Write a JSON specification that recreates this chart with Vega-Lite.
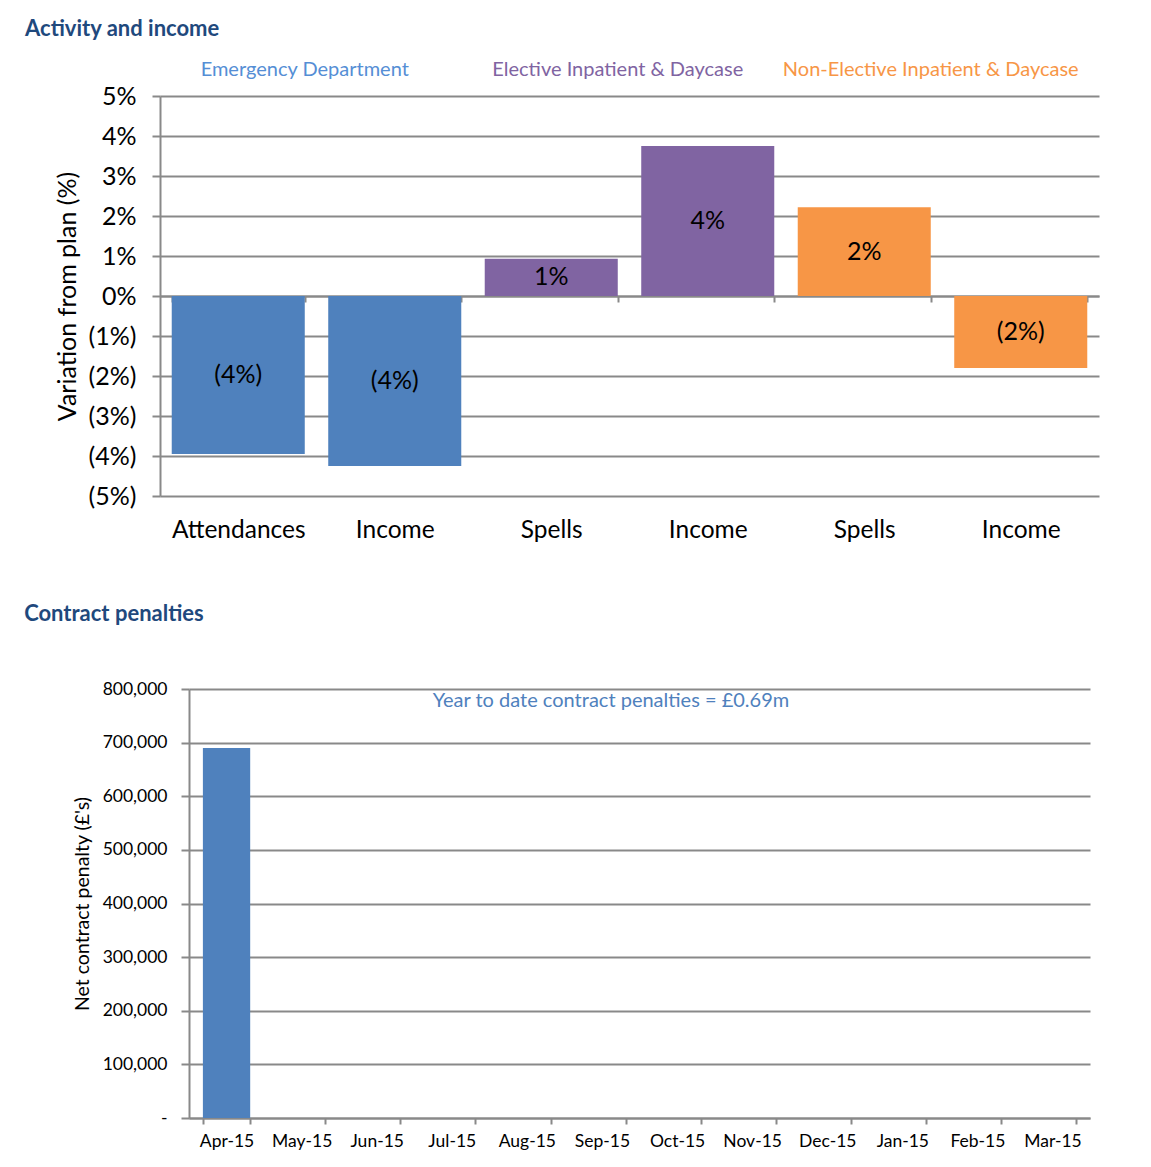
{
  "$schema": "https://vega.github.io/schema/vega-lite/v6.json",
  "background": "white",
  "padding": {"left": 24, "top": 18, "right": 10, "bottom": 0},
  "columns": 1,
  "align": "none",
  "spacing": 61,
  "config": {
    "font": "Lato",
    "view": {"stroke": null},
    "axis": {
      "domainColor": "#898989", "tickColor": "#898989", "gridColor": "#898989",
      "domainWidth": 2, "tickWidth": 2, "gridWidth": 2,
      "labelColor": "black", "titleColor": "black",
      "labelFont": "Lato", "titleFont": "Lato", "titleFontWeight": "normal",
      "labelOverlap": false
    },
    "title": {"anchor": "start", "frame": "bounds", "color": "#1F497D", "fontSize": 22, "fontWeight": "bold", "font": "Lato"}
  },
  "concat": [
    {
      "title": {"text": "Activity and income", "dx": -30, "offset": 19},
      "width": 910,
      "height": 400,
      "data": {"values": [
        {"group": "Emergency Department", "item": "ED Attendances", "value": -0.0395},
        {"group": "Emergency Department", "item": "ED Income", "value": -0.0425},
        {"group": "Elective Inpatient & Daycase", "item": "EL Spells", "value": 0.0093},
        {"group": "Elective Inpatient & Daycase", "item": "EL Income", "value": 0.0375},
        {"group": "Non-Elective Inpatient & Daycase", "item": "NEL Spells", "value": 0.0222},
        {"group": "Non-Elective Inpatient & Daycase", "item": "NEL Income", "value": -0.018}
      ]},
      "resolve": {"scale": {"y": "independent", "color": "independent"}},
      "layer": [
        {
          "mark": {"type": "bar"},
          "encoding": {
            "x": {
              "field": "item", "type": "nominal", "sort": null,
              "scale": {"paddingInner": 0.15, "paddingOuter": 0.075, "range": [-29, 910]},
              "axis": {
                "title": null, "orient": "bottom", "offset": -200,
                "tickBand": "extent", "tickSize": 6, "labelPadding": 216,
                "labelFontSize": 24.5, "labelAngle": 0, "grid": false,
                "labelExpr": "split(datum.label, ' ')[1]"
              }
            },
            "y": {
              "field": "value", "type": "quantitative",
              "scale": {"domain": [-0.05, 0.05]},
              "axis": {
                "title": "Variation from plan (%)", "format": "(.0%",
                "values": [-0.05, -0.04, -0.03, -0.02, -0.01, 0, 0.01, 0.02, 0.03, 0.04, 0.05],
                "labelFontSize": 25, "titleFontSize": 25, "tickSize": 8,
                "labelPadding": 16, "titlePadding": 8, "offset": 29
              }
            },
            "color": {
              "field": "group", "type": "nominal",
              "scale": {
                "domain": ["Emergency Department", "Elective Inpatient & Daycase", "Non-Elective Inpatient & Daycase"],
                "range": ["#4F81BD", "#8064A2", "#F79646"]
              },
              "legend": null
            }
          }
        },
        {
          "mark": {"type": "text", "fontSize": 25, "color": "black", "baseline": "middle"},
          "encoding": {
            "x": {"field": "item", "type": "nominal", "sort": null},
            "y": {"field": "value", "type": "quantitative", "scale": {"domain": [-0.1, 0.1]}, "axis": null},
            "text": {"field": "value", "type": "quantitative", "format": "(.0%"}
          }
        },
        {
          "data": {"values": [
            {"group": "Emergency Department", "item": "ED Attendances"},
            {"group": "Elective Inpatient & Daycase", "item": "EL Spells"},
            {"group": "Non-Elective Inpatient & Daycase", "item": "NEL Spells"}
          ]},
          "mark": {"type": "text", "fontSize": 20, "baseline": "middle", "clip": false},
          "encoding": {
            "x": {"field": "item", "type": "nominal", "sort": null, "bandPosition": 1},
            "y": {"datum": 0.0565, "scale": {"domain": [-0.05, 0.05]}, "axis": null},
            "text": {"field": "group"},
            "color": {
              "field": "group", "type": "nominal", "legend": null,
              "scale": {
                "domain": ["Emergency Department", "Elective Inpatient & Daycase", "Non-Elective Inpatient & Daycase"],
                "range": ["#558ED5", "#8064A2", "#F79646"]
              }
            }
          }
        }
      ]
    },
    {
      "title": {"text": "Contract penalties", "dx": -48, "offset": 54},
      "width": 901,
      "height": 429,
      "layer": [
        {
          "data": {"values": [
            {"month": "Apr-15", "penalty": 690000},
            {"month": "May-15", "penalty": 0},
            {"month": "Jun-15", "penalty": 0},
            {"month": "Jul-15", "penalty": 0},
            {"month": "Aug-15", "penalty": 0},
            {"month": "Sep-15", "penalty": 0},
            {"month": "Oct-15", "penalty": 0},
            {"month": "Nov-15", "penalty": 0},
            {"month": "Dec-15", "penalty": 0},
            {"month": "Jan-15", "penalty": 0},
            {"month": "Feb-15", "penalty": 0},
            {"month": "Mar-15", "penalty": 0}
          ]},
          "mark": {"type": "bar", "color": "#4F81BD"},
          "encoding": {
            "x": {
              "field": "month", "type": "ordinal", "sort": null,
              "scale": {"paddingInner": 0.37, "paddingOuter": 0.185},
              "axis": {
                "title": null, "labelAngle": 0, "labelFontSize": 17.5,
                "tickBand": "extent", "tickSize": 6, "labelPadding": 8, "grid": false
              }
            },
            "y": {
              "field": "penalty", "type": "quantitative",
              "scale": {"domain": [0, 800000]},
              "axis": {
                "title": "Net contract penalty (£'s)",
                "values": [0, 100000, 200000, 300000, 400000, 500000, 600000, 700000, 800000],
                "labelExpr": "datum.value == 0 ? '-' : format(datum.value, ',')",
                "labelFontSize": 17.5, "titleFontSize": 19.5, "tickSize": 8,
                "labelPadding": 14, "titlePadding": 10
              }
            }
          }
        },
        {
          "data": {"values": [{"month": "Sep-15", "label": "Year to date contract penalties = £0.69m"}]},
          "mark": {"type": "text", "fontSize": 20, "color": "#4F81BD", "baseline": "middle", "dx": 9},
          "encoding": {
            "x": {"field": "month", "type": "ordinal", "sort": null},
            "y": {"datum": 778000},
            "text": {"field": "label"}
          }
        }
      ]
    }
  ]
}
